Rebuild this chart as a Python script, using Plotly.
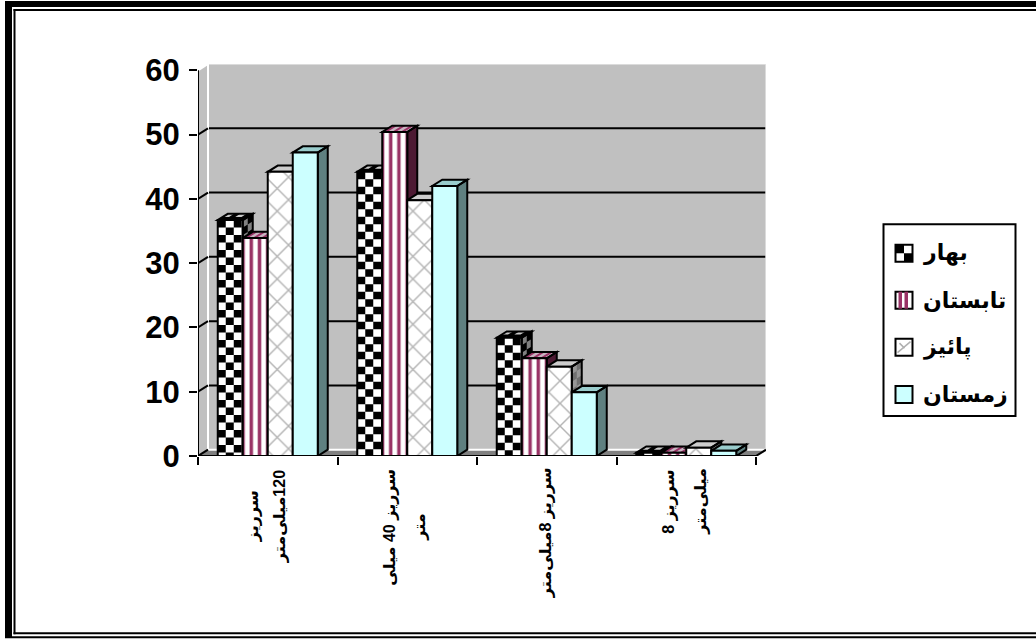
import plotly.graph_objects as go

# Overflow pipe series, one value per size class
categories = ["سرریز 120میلی‌متر", "سرریز 40 میلی متر", "سرریز 8میلی‌متر", "سرریز 8 میلی‌متر"]
spring = [36.7, 44.2, 18.4, 0.5]
summer = [33.9, 50.4, 15.2, 0.5]
autumn = [44.2, 39.8, 13.9, 1.3]
winter = [47.2, 42.0, 9.9, 0.8]
season_names = ["بهار", "تابستان", "پائیز", "زمستان"]
y_ticks = [0, 10, 20, 30, 40, 50, 60]
category_lines = [
    ["سرریز", "\u200f120میلی‌متر"],
    ["سرریز 40 میلی", "متر"],
    ["سرریز 8میلی‌متر"],
    ["سرریز 8", "میلی‌متر"],
]

W, H = 1036, 639
L, R, T, B = 198, 766, 64, 456.5   # plot area in pixels
PX_X = 139.5                       # pixels per category
PX_Y = 6.43                        # pixels per value unit
DX = 10 / PX_X                     # depth offset of the pseudo-3D box, data units
DY = 6.3 / PX_Y
GAP = 1 - 100 / PX_X
BAR_W = (1 - GAP) / 4
series = [spring, summer, autumn, winter]
PURPLE = "#993366"
CYAN = "#CCFFFF"


def poly(points):
    return "M" + "L".join(f"{x:.4f},{y:.4f}" for x, y in points) + "Z"


def data_shape(path, fill, layer="below", line_w=0, line_c="black"):
    return dict(type="path", xref="x", yref="y", path=path, fillcolor=fill, layer=layer,
                line=dict(width=line_w, color=line_c))


def data_line(x0, y0, x1, y1, color="black", width=2, layer="below"):
    return dict(type="line", xref="x", yref="y", x0=x0, y0=y0, x1=x1, y1=y1, layer=layer,
                line=dict(color=color, width=width))


def px(x):
    return (x - L) / (R - L)


def py(y):
    return (B - y) / (B - T)


def paper_rect(x0, y0, x1, y1, fill="black", line_w=0, layer="above"):
    return dict(type="rect", xref="paper", yref="paper", x0=px(x0), x1=px(x1), y0=py(y0), y1=py(y1),
                fillcolor=fill, layer=layer, line=dict(width=line_w, color="black"))


def top_cell(x0, v, u0, u1, w0, w1):
    """Quad on a bar's top face; u runs along the width, w along the depth (both 0..1)."""
    corner = lambda u, w: (x0 + u * BAR_W + w * DX, v + w * DY)
    return [corner(u0, w0), corner(u1, w0), corner(u1, w1), corner(u0, w1)]


def side_cell(x1, v0, v1, w0, w1):
    """Quad on a bar's side face between heights v0 and v1."""
    return [(x1 + w0 * DX, v0 + w0 * DY), (x1 + w1 * DX, v0 + w1 * DY),
            (x1 + w1 * DX, v1 + w1 * DY), (x1 + w0 * DX, v1 + w0 * DY)]


def side_checks(x1, v, cell):
    """Alternating half-width quads that texture a bar's side face."""
    cells, r, vv = [], 0, v
    while vv > 0:
        lo = max(vv - cell, 0)
        cells.append(poly(side_cell(x1, lo, vv, 0 if r % 2 else 0.5, 0.5 if r % 2 else 1)))
        vv, r = lo, r + 1
    return "".join(cells)


shapes = []

# Walls and floor of the box
x_lo, x_hi = -0.5, 3.5
shapes.append(data_shape(poly([(x_lo + DX, DY), (x_hi + DX, DY), (x_hi + DX, 60 + DY), (x_lo + DX, 60 + DY)]), "#C0C0C0"))
shapes.append(data_shape(poly([(x_lo, 0), (x_lo + DX, DY), (x_lo + DX, 60 + DY), (x_lo, 60)]), "#C0C0C0"))
shapes.append(data_shape(poly([(x_lo, 0), (x_hi, 0), (x_hi + DX, DY), (x_lo + DX, DY)]), "#808080"))
for v in y_ticks[1:-1]:
    shapes.append(data_line(x_lo + DX, v + DY, x_hi + DX, v + DY))
shapes.append(data_line(x_lo + DX, DY, x_hi + DX, DY, color="white"))
shapes.append(data_line(x_lo + DX, 60 + DY, x_hi + DX, 60 + DY, color="#E4E4E4", width=1.5))
shapes.append(data_line(x_lo + DX, DY, x_lo + DX, 60 + DY, color="white"))
shapes.append(data_line(x_hi + DX, DY, x_hi + DX, 60 + DY, color="#E4E4E4", width=1.5))
shapes.append(data_line(x_lo, 60, x_lo + DX, 60 + DY, color="white"))
for v in y_ticks[:-1]:
    shapes.append(data_line(x_lo, v, x_lo + DX, v + DY))
shapes.append(data_line(x_hi, 0, x_hi + DX, DY))

# Side and top faces of the bars, left to right so nearer faces overlap correctly
CELL_Y = 7.5 / PX_Y
CELL_X = 8 / PX_X
front_cells = []
for i in range(4):
    for j, vals in enumerate(series):
        v = vals[i]
        x0 = i - (1 - GAP) / 2 + j * BAR_W
        x1 = x0 + BAR_W
        side = poly(side_cell(x1, 0, v, 0, 1))
        top = poly(top_cell(x0, v, 0, 1, 0, 1))
        if j == 0:
            shapes.append(data_shape(side, "#808080"))
            shapes.append(data_shape(side_checks(x1, v, CELL_Y), "black"))
            shapes.append(data_shape(top, "#C8C8C8"))
            cells = [poly(top_cell(x0, v, c / 4, (c + 1) / 4, r / 2, (r + 1) / 2))
                     for r in range(2) for c in range(4) if (r + c) % 2 == 0 or r == 0]
            shapes.append(data_shape("".join(cells), "black"))
            # Checkerboard on the front face, one compound path per bar
            r, vv = 0, v
            while vv > 0:
                lo = max(vv - CELL_Y, 0)
                c, xx = 0, x0
                while xx < x1 - 1e-6:
                    hi = min(xx + CELL_X, x1)
                    if (r + c) % 2 == 0:
                        front_cells.append(poly([(xx, lo), (hi, lo), (hi, vv), (xx, vv)]))
                    xx, c = hi, c + 1
                vv, r = lo, r + 1
        elif j == 1:
            shapes.append(data_shape(side, "#4D1A33"))
            shapes.append(data_shape(top, "#C8B4C0"))
            cells = [poly(top_cell(x0, v, c / 3 + 0.05, c / 3 + 0.2, 0, 1)) for c in range(3)]
            shapes.append(data_shape("".join(cells), PURPLE))
        elif j == 2:
            shapes.append(data_shape(side, "#969696"))
            shapes.append(data_shape(side_checks(x1, v, CELL_Y), "#707070"))
            shapes.append(data_shape(top, "#CDCDCD"))
        else:
            shapes.append(data_shape(side, "#5F8080"))
            shapes.append(data_shape(top, "#99CCCC"))
        shapes.append(data_shape(side, "rgba(0,0,0,0)", line_w=2))
        shapes.append(data_shape(top, "rgba(0,0,0,0)", line_w=2))

shapes.append(data_shape("".join(front_cells), "black", layer="above"))
shapes.append(data_line(x_lo, 0, x_lo, 60, layer="above"))
shapes.append(data_line(x_lo, 0, x_hi, 0, layer="above"))

# Double page frame
shapes.append(paper_rect(5, 1, 12, 639))
shapes.append(paper_rect(5, 1, 1036, 7))
shapes.append(paper_rect(13.5, 9, 15.5, 635))
shapes.append(paper_rect(13.5, 9, 1036, 11))
shapes.append(paper_rect(13.5, 633, 1036, 635))
shapes.append(paper_rect(12, 637, 1036, 639))

# Legend box with hand-built swatches
shapes.append(paper_rect(883.5, 224.5, 1015.5, 416.5, fill="white", line_w=2))
legend_y = [253.5, 300.5, 347.5, 395]
sw0, sw1 = 895.5, 912.5
annotations = []
for name, yc in zip(season_names, legend_y):
    annotations.append(dict(xref="paper", yref="paper", x=px(921), y=py(yc), text=f"<b>{name}</b>",
                            showarrow=False, xanchor="left", yanchor="middle",
                            font=dict(family="Liberation Sans, DejaVu Sans", size=22, color="black")))
fills = ["white", "white", "white", CYAN]
for k, yc in enumerate(legend_y):
    y0, y1 = yc - 8.5, yc + 8.5
    shapes.append(paper_rect(sw0, y0, sw1, y1, fill=fills[k], line_w=2))
    if k == 0:
        shapes.append(paper_rect(sw0, y0, sw0 + 8.5, yc, fill="black"))
        shapes.append(paper_rect(sw0 + 8.5, yc, sw1, y1, fill="black"))
    elif k == 1:
        for s in (3, 9):
            shapes.append(paper_rect(sw0 + s, y0, sw0 + s + 3.5, y1, fill=PURPLE))
    elif k == 2:
        shapes.append(dict(type="line", xref="paper", yref="paper", layer="above",
                           x0=px(sw0 + 2), y0=py(y1 - 3), x1=px(sw1 - 2), y1=py(y0 + 3),
                           line=dict(color="#B0B0B0", width=1.5)))
        shapes.append(dict(type="line", xref="paper", yref="paper", layer="above",
                           x0=px(sw0 + 4), y0=py(yc - 4), x1=px(sw0 + 9), y1=py(yc + 1),
                           line=dict(color="#B0B0B0", width=1.5)))

# Category labels, rotated, one annotation per line
line_offsets = [[-14, 13], [-17, 13], [0], [-17, 15]]
label_y = [517, 528, 533, 502]
for i, lines in enumerate(category_lines):
    for text, dx in zip(lines, line_offsets[i]):
        annotations.append(dict(x=i, xref="x", xshift=dx, yref="paper", y=py(label_y[i]), text=f"<b>{text}</b>",
                                textangle=-90, showarrow=False, xanchor="center", yanchor="middle",
                                font=dict(family="Liberation Sans, DejaVu Sans", size=16, color="black")))

fig = go.Figure()
styles = [
    dict(color="white"),
    dict(color="white", pattern=dict(shape="|", size=8.2, solidity=0.42, fgcolor=PURPLE, fgopacity=1, bgcolor="white", fillmode="overlay")),
    dict(color="white", pattern=dict(shape="x", size=16, solidity=0.17, fgcolor="#B4B4B4", fgopacity=1, bgcolor="white", fillmode="overlay")),
    dict(color=CYAN),
]
x_positions = [0, 1, 2, 3]
for name, vals, style in zip(season_names, series, styles):
    fig.add_bar(x=x_positions, y=vals, name=name, customdata=categories,
                marker=dict(line=dict(color="black", width=2), **style))

fig.update_layout(
    width=W, height=H, barmode="group", bargap=GAP, bargroupgap=0, showlegend=False,
    margin=dict(l=L, r=W - R, t=T, b=H - B, autoexpand=False),
    paper_bgcolor="white", plot_bgcolor="rgba(0,0,0,0)",
    shapes=shapes, annotations=annotations,
    xaxis=dict(range=[x_lo, x_hi + DX], tickmode="array", tickvals=[-0.5, 0.5, 1.5, 2.5, 3.5],
               showticklabels=False, ticks="outside", ticklen=8, tickwidth=2, tickcolor="black",
               showgrid=False, zeroline=False, showline=False),
    yaxis=dict(range=[0, 60 + DY], tickmode="array", tickvals=y_ticks, ticks="outside", ticklen=8,
               tickwidth=2, tickcolor="black", showgrid=False, zeroline=False, showline=False,
               ticklabelstandoff=3,
               tickfont=dict(family="Liberation Sans, Arial", size=31, color="black", weight="bold")),
)
fig.write_html("out.html")
